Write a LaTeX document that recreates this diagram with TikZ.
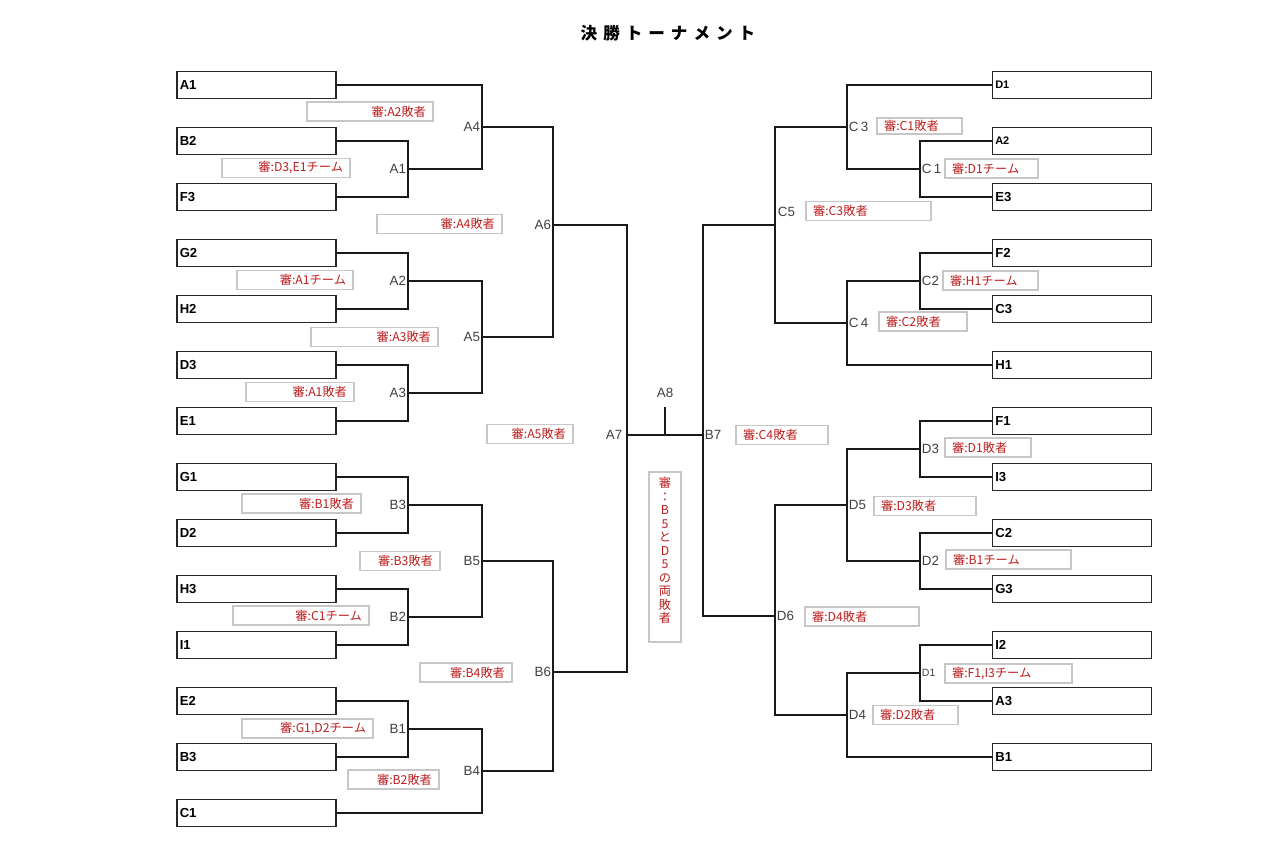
\documentclass[tikz,border=0pt]{standalone}
\usepackage{fontspec}
\usepackage{tikz}
\setmainfont{Liberation Sans}
\newfontfamily\jpfont{Noto Sans CJK JP}
\newfontfamily\titlefont[LetterSpace=36]{Noto Sans CJK JP}
\definecolor{judgered}{RGB}{190,30,30}
\definecolor{matchgray}{RGB}{64,64,64}

\begin{document}
\begin{tikzpicture}[
    x=0.025cm, y=-0.025cm,
    team/.style={rectangle, draw=black!85, line width=0.9pt, minimum width=3.975cm, minimum height=0.675cm, text width=3.975cm-4pt, inner xsep=2pt, align=left, font=\bfseries\fontsize{9.3}{11}\selectfont},
    match/.style={inner sep=1.2pt, text=matchgray, font=\fontsize{9.5}{11}\selectfont},
    judge/.style={rectangle, draw=black!22, line width=0.9pt, fill=white, text=judgered, minimum height=0.48cm, inner ysep=0pt, inner xsep=5pt, font=\jpfont\fontsize{8.7}{9}\selectfont},
    judgeL/.style={judge, text width=#1*0.025cm-10pt, align=right},
    judgeR/.style={judge, text width=#1*0.025cm-10pt, align=left},
    bracket/.style={line width=0.8pt, black!90}
  ]
    \useasboundingbox (0,0) rectangle (1280,867);

    % Title
    \node[font=\titlefont\bfseries\fontsize{11.8}{13}\selectfont] (title) at (668,33) {決勝トーナメント};

    % Teams - left side
    \node[team] (tA1) at (256.5,85) {A1};
    \node[team] (tB2) at (256.5,141) {B2};
    \node[team] (tF3) at (256.5,197) {F3};
    \node[team] (tG2) at (256.5,253) {G2};
    \node[team] (tH2) at (256.5,309) {H2};
    \node[team] (tD3) at (256.5,365) {D3};
    \node[team] (tE1) at (256.5,421) {E1};
    \node[team] (tG1) at (256.5,477) {G1};
    \node[team] (tD2) at (256.5,533) {D2};
    \node[team] (tH3) at (256.5,589) {H3};
    \node[team] (tI1) at (256.5,645) {I1};
    \node[team] (tE2) at (256.5,701) {E2};
    \node[team] (tB3) at (256.5,757) {B3};
    \node[team] (tC1) at (256.5,813) {C1};

    % Teams - right side
    \node[team, font=\bfseries\fontsize{7.8}{9}\selectfont] (rD1) at (1072,85) {D1};
    \node[team, font=\bfseries\fontsize{7.8}{9}\selectfont] (rA2) at (1072,141) {A2};
    \node[team] (rE3) at (1072,197) {E3};
    \node[team] (rF2) at (1072,253) {F2};
    \node[team] (rC3) at (1072,309) {C3};
    \node[team] (rH1) at (1072,365) {H1};
    \node[team] (rF1) at (1072,421) {F1};
    \node[team] (rI3) at (1072,477) {I3};
    \node[team] (rC2) at (1072,533) {C2};
    \node[team] (rG3) at (1072,589) {G3};
    \node[team] (rI2) at (1072,645) {I2};
    \node[team] (rA3) at (1072,701) {A3};
    \node[team] (rB1) at (1072,757) {B1};

    % Match points
    \coordinate (mA1) at (408,169);
    \coordinate (mA2) at (408,281);
    \coordinate (mA3) at (408,393);
    \coordinate (mA4) at (482,127);
    \coordinate (mA5) at (482,337);
    \coordinate (mA6) at (553,225);
    \coordinate (mB3) at (408,505);
    \coordinate (mB2) at (408,617);
    \coordinate (mB1) at (408,729);
    \coordinate (mB5) at (482,561);
    \coordinate (mB4) at (482,771);
    \coordinate (mB6) at (553,672);
    \coordinate (mA7) at (627,435);
    \coordinate (mA8) at (665,407);
    \coordinate (mB7) at (703,435);
    \coordinate (mC1) at (920,169);
    \coordinate (mC2) at (920,281);
    \coordinate (mC3) at (847,127);
    \coordinate (mC4) at (847,323);
    \coordinate (mC5) at (775,225);
    \coordinate (mD3) at (920,449);
    \coordinate (mD2) at (920,561);
    \coordinate (mD1) at (920,673);
    \coordinate (mD5) at (847,505);
    \coordinate (mD4) at (847,715);
    \coordinate (mD6) at (775,616);

    % Match labels
    \node[match, left] (lA1) at (mA1) {A1};
    \node[match, left] (lA2) at (mA2) {A2};
    \node[match, left] (lA3) at (mA3) {A3};
    \node[match, left] (lA4) at (mA4) {A4};
    \node[match, left] (lA5) at (mA5) {A5};
    \node[match, left] (lA6) at (mA6) {A6};
    \node[match, left] (lB3) at (mB3) {B3};
    \node[match, left] (lB2) at (mB2) {B2};
    \node[match, left] (lB1) at (mB1) {B1};
    \node[match, left] (lB5) at (mB5) {B5};
    \node[match, left] (lB4) at (mB4) {B4};
    \node[match, left] (lB6) at (mB6) {B6};
    \node[match, left, xshift=-2pt] (lA7) at (mA7) {A7};
    \node[match] (lA8) at (665,393) {A8};
    \node[match, right] (lB7) at (mB7) {B7};
    \node[match, right] (lC1) at (mC1) {C\,1};
    \node[match, right] (lC2) at (mC2) {C2};
    \node[match, right] (lC3) at (mC3) {C\,3};
    \node[match, right] (lC4) at (mC4) {C\,4};
    \node[match, right] (lC5) at (776,212) {C5};
    \node[match, right] (lD3) at (mD3) {D3};
    \node[match, right] (lD2) at (mD2) {D2};
    \node[match, right, font=\fontsize{7.5}{8}\selectfont] (lD1) at (mD1) {D1};
    \node[match, right] (lD5) at (mD5) {D5};
    \node[match, right] (lD4) at (mD4) {D4};
    \node[match, right] (lD6) at (mD6) {D6};

    % Referees - left side
    \node[judgeL=126] (jA2) at (370,111.5) {審:A2敗者};
    \node[judgeL=128] (jD3E1) at (286,168) {審:D3,E1チーム};
    \node[judgeL=125] (jA4) at (439.5,224) {審:A4敗者};
    \node[judgeL=116] (jA1t) at (295,280) {審:A1チーム};
    \node[judgeL=127] (jA3) at (374.5,337) {審:A3敗者};
    \node[judgeL=108] (jA1) at (300,392) {審:A1敗者};
    \node[judgeL=86] (jA5) at (530,434) {審:A5敗者};
    \node[judgeL=119] (jB1) at (301.5,503.5) {審:B1敗者};
    \node[judgeL=80] (jB3) at (400,561) {審:B3敗者};
    \node[judgeL=136] (jC1t) at (301,615.5) {審:C1チーム};
    \node[judgeL=92] (jB4) at (466,672.5) {審:B4敗者};
    \node[judgeL=131] (jG1D2) at (307.5,728.5) {審:G1,D2チーム};
    \node[judgeL=91] (jB2) at (393.5,779.5) {審:B2敗者};

    % Referee - final
    \node[judge, minimum width=0.8cm, minimum height=4.25cm, align=center, inner sep=0pt, font=\jpfont\fontsize{8.7}{9.6}\selectfont] (jB5D5) at (665,557) {審\\：\\B\\5\\と\\D\\5\\の\\両\\敗\\者\\ \mbox{}};

    % Referees - right side
    \node[judgeR=92] (jC4) at (782,435) {審:C4敗者};
    \node[judgeR=85, minimum height=0.4cm] (jC1) at (919.5,126) {審:C1敗者};
    \node[judgeR=93] (jD1t) at (991.5,168.5) {審:D1チーム};
    \node[judgeR=125] (jC3) at (868.5,211) {審:C3敗者};
    \node[judgeR=95] (jH1t) at (990.5,280.5) {審:H1チーム};
    \node[judgeR=88] (jC2) at (923,321.5) {審:C2敗者};
    \node[judgeR=86] (jD1) at (988,447.5) {審:D1敗者};
    \node[judgeR=102] (jD3) at (925,506) {審:D3敗者};
    \node[judgeR=125] (jB1t) at (1008.5,559.5) {審:B1チーム};
    \node[judgeR=114] (jD4) at (862,616.5) {審:D4敗者};
    \node[judgeR=127] (jF1I3) at (1008.5,673.5) {審:F1,I3チーム};
    \node[judgeR=85] (jD2) at (915.5,715) {審:D2敗者};

    % Left bracket
    \draw[bracket] (tA1.east) -| (mA4);
    \draw[bracket] (tB2.east) -| (mA1);
    \draw[bracket] (tF3.east) -| (mA1);
    \draw[bracket] (tG2.east) -| (mA2);
    \draw[bracket] (tH2.east) -| (mA2);
    \draw[bracket] (tD3.east) -| (mA3);
    \draw[bracket] (tE1.east) -| (mA3);
    \draw[bracket] (tG1.east) -| (mB3);
    \draw[bracket] (tD2.east) -| (mB3);
    \draw[bracket] (tH3.east) -| (mB2);
    \draw[bracket] (tI1.east) -| (mB2);
    \draw[bracket] (tE2.east) -| (mB1);
    \draw[bracket] (tB3.east) -| (mB1);
    \draw[bracket] (tC1.east) -| (mB4);
    \draw[bracket] (mA1) -| (mA4);
    \draw[bracket] (mA2) -| (mA5);
    \draw[bracket] (mA3) -| (mA5);
    \draw[bracket] (mA4) -| (mA6);
    \draw[bracket] (mA5) -| (mA6);
    \draw[bracket] (mB3) -| (mB5);
    \draw[bracket] (mB2) -| (mB5);
    \draw[bracket] (mB1) -| (mB4);
    \draw[bracket] (mB5) -| (mB6);
    \draw[bracket] (mB4) -| (mB6);
    \draw[bracket] (mA6) -| (mA7);
    \draw[bracket] (mB6) -| (mA7);

    % Final
    \draw[bracket] (mA7) -- (mB7);
    \draw[bracket] (mA8) -- (mA8 |- mA7);

    % Right bracket
    \draw[bracket] (rD1.west) -| (mC3);
    \draw[bracket] (rA2.west) -| (mC1);
    \draw[bracket] (rE3.west) -| (mC1);
    \draw[bracket] (rF2.west) -| (mC2);
    \draw[bracket] (rC3.west) -| (mC2);
    \draw[bracket] (rH1.west) -| (mC4);
    \draw[bracket] (rF1.west) -| (mD3);
    \draw[bracket] (rI3.west) -| (mD3);
    \draw[bracket] (rC2.west) -| (mD2);
    \draw[bracket] (rG3.west) -| (mD2);
    \draw[bracket] (rI2.west) -| (mD1);
    \draw[bracket] (rA3.west) -| (mD1);
    \draw[bracket] (rB1.west) -| (mD4);
    \draw[bracket] (mC1) -| (mC3);
    \draw[bracket] (mC2) -| (mC4);
    \draw[bracket] (mC3) -| (mC5);
    \draw[bracket] (mC4) -| (mC5);
    \draw[bracket] (mD3) -| (mD5);
    \draw[bracket] (mD2) -| (mD5);
    \draw[bracket] (mD1) -| (mD4);
    \draw[bracket] (mD5) -| (mD6);
    \draw[bracket] (mD4) -| (mD6);
    \draw[bracket] (mC5) -| (mB7);
    \draw[bracket] (mD6) -| (mB7);

  \end{tikzpicture}
\end{document}
